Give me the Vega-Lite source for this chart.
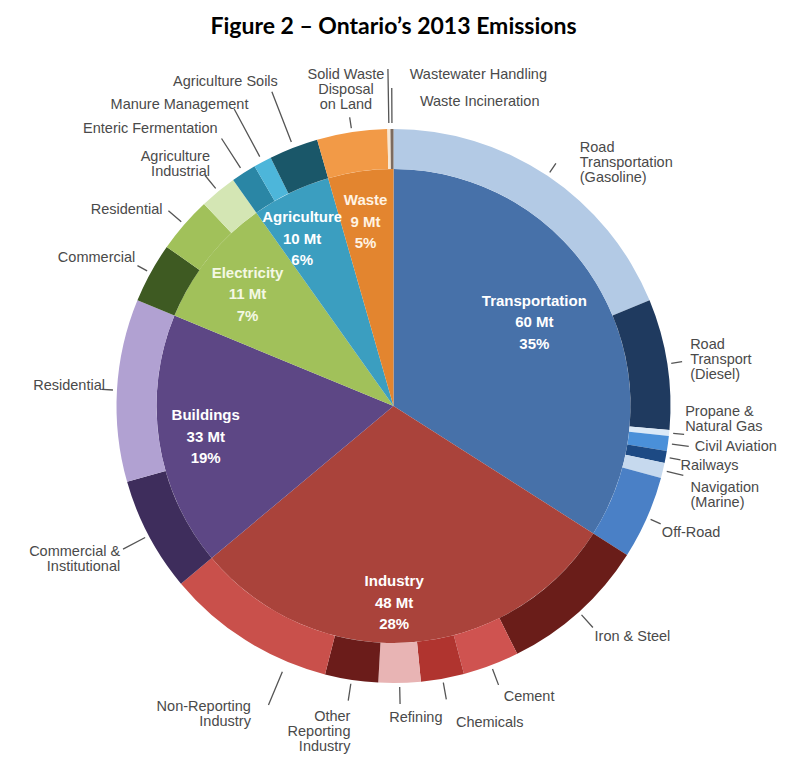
{
  "$schema": "https://vega.github.io/schema/vega-lite/v6.json",
  "width": 787,
  "height": 732,
  "autosize": {"type": "none"},
  "padding": {"left": 0, "top": 40, "right": 0, "bottom": 0},
  "background": "#ffffff",
  "title": {"text": "Figure 2 – Ontario’s 2013 Emissions", "anchor": "middle", "font": "Lato", "fontSize": 23, "fontWeight": "bold", "color": "#000000", "offset": 1},
  "config": {
    "view": {"fill": "#f0f0f0", "stroke": null},
    "text": {"font": "Liberation Sans", "fontSize": 14.5, "color": "#4a4a4a", "lineHeight": 15, "lineBreak": "\n", "baseline": "middle"}
  },
  "datasets": {
    "sectors": [
      {"idx": 1, "key": "Transportation", "value": 58.2, "label": "Transportation\n60 Mt\n35%"},
      {"idx": 2, "key": "Industry", "value": 51.1, "label": "Industry\n48 Mt\n28%"},
      {"idx": 3, "key": "Buildings", "value": 29.6, "label": "Buildings\n33 Mt\n19%"},
      {"idx": 4, "key": "Electricity", "value": 15.3, "label": "Electricity\n11 Mt\n7%"},
      {"idx": 5, "key": "Agriculture", "value": 9.2, "label": "Agriculture\n10 Mt\n6%"},
      {"idx": 6, "key": "Waste", "value": 7.6, "label": "Waste\n9 Mt\n5%"}
    ],
    "subs": [
      {"idx": 1, "sector": "Transportation", "key": "Road Transportation (Gasoline)", "value": 32.1, "label": "Road\nTransportation\n(Gasoline)"},
      {"idx": 2, "sector": "Transportation", "key": "Road Transport (Diesel)", "value": 13.0, "label": "Road\nTransport\n(Diesel)"},
      {"idx": 3, "sector": "Transportation", "key": "Propane & Natural Gas", "value": 0.6, "label": "Propane &\nNatural Gas"},
      {"idx": 4, "sector": "Transportation", "key": "Civil Aviation", "value": 1.5, "label": "Civil Aviation"},
      {"idx": 5, "sector": "Transportation", "key": "Railways", "value": 1.2, "label": "Railways"},
      {"idx": 6, "sector": "Transportation", "key": "Navigation (Marine)", "value": 1.5, "label": "Navigation\n(Marine)"},
      {"idx": 7, "sector": "Transportation", "key": "Off-Road", "value": 8.3, "label": "Off-Road"},
      {"idx": 8, "sector": "Industry", "key": "Iron & Steel", "value": 14.7, "label": "Iron & Steel"},
      {"idx": 9, "sector": "Industry", "key": "Cement", "value": 5.6, "label": "Cement"},
      {"idx": 10, "sector": "Industry", "key": "Chemicals", "value": 4.3, "label": "Chemicals"},
      {"idx": 11, "sector": "Industry", "key": "Refining", "value": 4.2, "label": "Refining"},
      {"idx": 12, "sector": "Industry", "key": "Other Reporting Industry", "value": 5.3, "label": "Other\nReporting\nIndustry"},
      {"idx": 13, "sector": "Industry", "key": "Non-Reporting Industry", "value": 17.0, "label": "Non-Reporting\nIndustry"},
      {"idx": 14, "sector": "Buildings", "key": "Buildings: Commercial & Institutional", "value": 11.4, "label": "Commercial &\nInstitutional"},
      {"idx": 15, "sector": "Buildings", "key": "Buildings: Residential", "value": 18.2, "label": "Residential"},
      {"idx": 16, "sector": "Electricity", "key": "Electricity: Commercial", "value": 6.0, "label": "Commercial"},
      {"idx": 17, "sector": "Electricity", "key": "Electricity: Residential", "value": 5.6, "label": "Residential"},
      {"idx": 18, "sector": "Electricity", "key": "Electricity: Agriculture Industrial", "value": 3.7, "label": "Agriculture\nIndustrial"},
      {"idx": 19, "sector": "Agriculture", "key": "Enteric Fermentation", "value": 2.5, "label": "Enteric Fermentation"},
      {"idx": 20, "sector": "Agriculture", "key": "Manure Management", "value": 1.8, "label": "Manure Management"},
      {"idx": 21, "sector": "Agriculture", "key": "Agriculture Soils", "value": 4.9, "label": "Agriculture Soils"},
      {"idx": 22, "sector": "Waste", "key": "Solid Waste Disposal on Land", "value": 7.0, "label": "Solid Waste\nDisposal\non Land"},
      {"idx": 23, "sector": "Waste", "key": "Wastewater Handling", "value": 0.3, "label": "Wastewater Handling"},
      {"idx": 24, "sector": "Waste", "key": "Waste Incineration", "value": 0.3, "label": "Waste Incineration"}
    ]
  },
  "layer": [
    {
      "data": {"name": "sectors"},
      "mark": {"type": "arc", "outerRadius": 237, "innerRadius": 0},
      "encoding": {
        "theta": {"field": "value", "type": "quantitative", "stack": true},
        "order": {"field": "idx", "type": "quantitative"},
        "color": {"field": "key", "type": "nominal", "legend": null,
          "scale": {
            "domain": ["Transportation", "Industry", "Buildings", "Electricity", "Agriculture", "Waste", "Road Transportation (Gasoline)", "Road Transport (Diesel)", "Propane & Natural Gas", "Civil Aviation", "Railways", "Navigation (Marine)", "Off-Road", "Iron & Steel", "Cement", "Chemicals", "Refining", "Other Reporting Industry", "Non-Reporting Industry", "Buildings: Commercial & Institutional", "Buildings: Residential", "Electricity: Commercial", "Electricity: Residential", "Electricity: Agriculture Industrial", "Enteric Fermentation", "Manure Management", "Agriculture Soils", "Solid Waste Disposal on Land", "Wastewater Handling", "Waste Incineration"],
            "range": ["#4771a9", "#aa433b", "#5d4785", "#a1c15a", "#3b9ec0", "#e3852f", "#b3cae5", "#1f3a5f", "#dbe9f7", "#4a90d9", "#1d4a84", "#c6d9ee", "#4a80c6", "#6a1d19", "#cf5350", "#b0342f", "#e8b4b4", "#6b1c1a", "#c9504b", "#3e2d5c", "#b1a1d2", "#3e5a22", "#a1c15a", "#d4e6b4", "#2a86a5", "#4db6da", "#1a5769", "#f29a47", "#f7e6d2", "#7c6b5f"]
          }
        }
      }
    },
    {
      "data": {"name": "subs"},
      "mark": {"type": "arc", "outerRadius": 277, "innerRadius": 237},
      "encoding": {
        "theta": {"field": "value", "type": "quantitative", "stack": true},
        "order": {"field": "idx", "type": "quantitative"},
        "color": {"field": "key", "type": "nominal", "legend": null}
      }
    },
    {
      "data": {"name": "subs"},
      "mark": {"type": "arc", "filled": false, "stroke": "#555555", "strokeWidth": 1.3, "padAngle": 3.14, "innerRadius": 281, "outerRadius": 292},
      "encoding": {
        "theta": {"field": "value", "type": "quantitative", "stack": true},
        "order": {"field": "idx", "type": "quantitative"},
        "strokeOpacity": {"condition": {"test": "indexof([1,2,3,5,7,15,16,22], datum.idx) >= 0", "value": 1}, "value": 0}
      }
    },
    {
      "data": {"name": "subs"},
      "mark": {"type": "arc", "filled": false, "stroke": "#555555", "strokeWidth": 1.3, "padAngle": 3.14, "innerRadius": 281, "outerRadius": 298},
      "encoding": {
        "theta": {"field": "value", "type": "quantitative", "stack": true},
        "order": {"field": "idx", "type": "quantitative"},
        "strokeOpacity": {"condition": {"test": "indexof([4,6,8,9,10,11,12,17,18], datum.idx) >= 0", "value": 1}, "value": 0}
      }
    },
    {
      "data": {"name": "subs"},
      "mark": {"type": "arc", "filled": false, "stroke": "#555555", "strokeWidth": 1.3, "padAngle": 3.14, "innerRadius": 288, "outerRadius": 324, "thetaOffset": -0.166},
      "encoding": {
        "theta": {"field": "value", "type": "quantitative", "stack": true},
        "order": {"field": "idx", "type": "quantitative"},
        "strokeOpacity": {"condition": {"test": "datum.idx === 13", "value": 1}, "value": 0}
      }
    },
    {
      "data": {"name": "subs"},
      "mark": {"type": "arc", "filled": false, "stroke": "#555555", "strokeWidth": 1.3, "padAngle": 3.14, "innerRadius": 281, "outerRadius": 306},
      "encoding": {
        "theta": {"field": "value", "type": "quantitative", "stack": true},
        "order": {"field": "idx", "type": "quantitative"},
        "strokeOpacity": {"condition": {"test": "datum.idx === 14", "value": 1}, "value": 0}
      }
    },
    {
      "data": {"name": "subs"},
      "mark": {"type": "arc", "filled": false, "stroke": "#555555", "strokeWidth": 1.3, "padAngle": 3.14, "innerRadius": 283, "outerRadius": 318},
      "encoding": {
        "theta": {"field": "value", "type": "quantitative", "stack": true},
        "order": {"field": "idx", "type": "quantitative"},
        "strokeOpacity": {"condition": {"test": "indexof([19,24], datum.idx) >= 0", "value": 1}, "value": 0}
      }
    },
    {
      "data": {"name": "subs"},
      "mark": {"type": "arc", "filled": false, "stroke": "#555555", "strokeWidth": 1.3, "padAngle": 3.14, "innerRadius": 283, "outerRadius": 337},
      "encoding": {
        "theta": {"field": "value", "type": "quantitative", "stack": true},
        "order": {"field": "idx", "type": "quantitative"},
        "strokeOpacity": {"condition": {"test": "indexof([20,21,23], datum.idx) >= 0", "value": 1}, "value": 0}
      }
    },
    {"data": {"name": "sectors"}, "mark": {"type": "text", "radius": 164, "dx": -3, "dy": -26.5, "align": "center", "font": "Liberation Sans", "fontWeight": "bold", "fontSize": 15, "lineHeight": 21.5, "color": "#ffffff"},
     "encoding": {"theta": {"field": "value", "type": "quantitative", "stack": true}, "order": {"field": "idx", "type": "quantitative"}, "text": {"condition": {"test": "datum.idx === 1", "field": "label"}, "value": ""}}},
    {"data": {"name": "sectors"}, "mark": {"type": "text", "radius": 197, "dx": -12, "dy": -21.5, "align": "center", "font": "Liberation Sans", "fontWeight": "bold", "fontSize": 15, "lineHeight": 21.5, "color": "#ffffff"},
     "encoding": {"theta": {"field": "value", "type": "quantitative", "stack": true}, "order": {"field": "idx", "type": "quantitative"}, "text": {"condition": {"test": "datum.idx === 2", "field": "label"}, "value": ""}}},
    {"data": {"name": "sectors"}, "mark": {"type": "text", "radius": 190, "dx": 0, "dy": -19.5, "align": "center", "font": "Liberation Sans", "fontWeight": "bold", "fontSize": 15, "lineHeight": 21.5, "color": "#ffffff"},
     "encoding": {"theta": {"field": "value", "type": "quantitative", "stack": true}, "order": {"field": "idx", "type": "quantitative"}, "text": {"condition": {"test": "datum.idx === 3", "field": "label"}, "value": ""}}},
    {"data": {"name": "sectors"}, "mark": {"type": "text", "radius": 184, "dx": -2, "dy": -18.5, "align": "center", "font": "Liberation Sans", "fontWeight": "bold", "fontSize": 15, "lineHeight": 21.5, "color": "#f4f8e4"},
     "encoding": {"theta": {"field": "value", "type": "quantitative", "stack": true}, "order": {"field": "idx", "type": "quantitative"}, "text": {"condition": {"test": "datum.idx === 4", "field": "label"}, "value": ""}}},
    {"data": {"name": "sectors"}, "mark": {"type": "text", "radius": 190, "dx": -9, "dy": -17.5, "align": "center", "font": "Liberation Sans", "fontWeight": "bold", "fontSize": 15, "lineHeight": 21.5, "color": "#ffffff"},
     "encoding": {"theta": {"field": "value", "type": "quantitative", "stack": true}, "order": {"field": "idx", "type": "quantitative"}, "text": {"condition": {"test": "datum.idx === 5", "field": "label"}, "value": ""}}},
    {"data": {"name": "sectors"}, "mark": {"type": "text", "radius": 186, "dx": -2, "dy": -21.5, "align": "center", "font": "Liberation Sans", "fontWeight": "bold", "fontSize": 15, "lineHeight": 21.5, "color": "#fff3e3"},
     "encoding": {"theta": {"field": "value", "type": "quantitative", "stack": true}, "order": {"field": "idx", "type": "quantitative"}, "text": {"condition": {"test": "datum.idx === 6", "field": "label"}, "value": ""}}},
    {"data": {"name": "subs"}, "mark": {"type": "text", "radius": 290, "align": "left", "dx": 25, "dy": -17}, "encoding": {"theta": {"field": "value", "type": "quantitative", "stack": true}, "order": {"field": "idx", "type": "quantitative"}, "text": {"condition": {"test": "datum.idx === 1", "field": "label"}, "value": ""}}},
    {"data": {"name": "subs"}, "mark": {"type": "text", "radius": 290, "align": "left", "dx": 10, "dy": -17}, "encoding": {"theta": {"field": "value", "type": "quantitative", "stack": true}, "order": {"field": "idx", "type": "quantitative"}, "text": {"condition": {"test": "datum.idx === 2", "field": "label"}, "value": ""}}},
    {"data": {"name": "subs"}, "mark": {"type": "text", "radius": 290, "align": "left", "dx": 3, "dy": -22}, "encoding": {"theta": {"field": "value", "type": "quantitative", "stack": true}, "order": {"field": "idx", "type": "quantitative"}, "text": {"condition": {"test": "datum.idx === 3", "field": "label"}, "value": ""}}},
    {"data": {"name": "subs"}, "mark": {"type": "text", "radius": 290, "align": "left", "dx": 14, "dy": 2}, "encoding": {"theta": {"field": "value", "type": "quantitative", "stack": true}, "order": {"field": "idx", "type": "quantitative"}, "text": {"condition": {"test": "datum.idx === 4", "field": "label"}, "value": ""}}},
    {"data": {"name": "subs"}, "mark": {"type": "text", "radius": 290, "align": "left", "dx": 2, "dy": 6}, "encoding": {"theta": {"field": "value", "type": "quantitative", "stack": true}, "order": {"field": "idx", "type": "quantitative"}, "text": {"condition": {"test": "datum.idx === 5", "field": "label"}, "value": ""}}},
    {"data": {"name": "subs"}, "mark": {"type": "text", "radius": 290, "align": "left", "dx": 15, "dy": 14}, "encoding": {"theta": {"field": "value", "type": "quantitative", "stack": true}, "order": {"field": "idx", "type": "quantitative"}, "text": {"condition": {"test": "datum.idx === 6", "field": "label"}, "value": ""}}},
    {"data": {"name": "subs"}, "mark": {"type": "text", "radius": 290, "align": "left", "dx": 3, "dy": 10}, "encoding": {"theta": {"field": "value", "type": "quantitative", "stack": true}, "order": {"field": "idx", "type": "quantitative"}, "text": {"condition": {"test": "datum.idx === 7", "field": "label"}, "value": ""}}},
    {"data": {"name": "subs"}, "mark": {"type": "text", "radius": 290, "align": "left", "dx": 7, "dy": 15}, "encoding": {"theta": {"field": "value", "type": "quantitative", "stack": true}, "order": {"field": "idx", "type": "quantitative"}, "text": {"condition": {"test": "datum.idx === 8", "field": "label"}, "value": ""}}},
    {"data": {"name": "subs"}, "mark": {"type": "text", "radius": 290, "align": "left", "dx": 8, "dy": 20}, "encoding": {"theta": {"field": "value", "type": "quantitative", "stack": true}, "order": {"field": "idx", "type": "quantitative"}, "text": {"condition": {"test": "datum.idx === 9", "field": "label"}, "value": ""}}},
    {"data": {"name": "subs"}, "mark": {"type": "text", "radius": 290, "align": "left", "dx": 11, "dy": 32}, "encoding": {"theta": {"field": "value", "type": "quantitative", "stack": true}, "order": {"field": "idx", "type": "quantitative"}, "text": {"condition": {"test": "datum.idx === 10", "field": "label"}, "value": ""}}},
    {"data": {"name": "subs"}, "mark": {"type": "text", "radius": 290, "align": "center", "dx": 16, "dy": 22}, "encoding": {"theta": {"field": "value", "type": "quantitative", "stack": true}, "order": {"field": "idx", "type": "quantitative"}, "text": {"condition": {"test": "datum.idx === 11", "field": "label"}, "value": ""}}},
    {"data": {"name": "subs"}, "mark": {"type": "text", "radius": 290, "align": "right", "dx": 1, "dy": 24}, "encoding": {"theta": {"field": "value", "type": "quantitative", "stack": true}, "order": {"field": "idx", "type": "quantitative"}, "text": {"condition": {"test": "datum.idx === 12", "field": "label"}, "value": ""}}},
    {"data": {"name": "subs"}, "mark": {"type": "text", "radius": 290, "align": "right", "dx": 12, "dy": 56}, "encoding": {"theta": {"field": "value", "type": "quantitative", "stack": true}, "order": {"field": "idx", "type": "quantitative"}, "text": {"condition": {"test": "datum.idx === 13", "field": "label"}, "value": ""}}},
    {"data": {"name": "subs"}, "mark": {"type": "text", "radius": 290, "align": "right", "dx": -17, "dy": 10}, "encoding": {"theta": {"field": "value", "type": "quantitative", "stack": true}, "order": {"field": "idx", "type": "quantitative"}, "text": {"condition": {"test": "datum.idx === 14", "field": "label"}, "value": ""}}},
    {"data": {"name": "subs"}, "mark": {"type": "text", "radius": 290, "align": "right", "dx": 1, "dy": -3}, "encoding": {"theta": {"field": "value", "type": "quantitative", "stack": true}, "order": {"field": "idx", "type": "quantitative"}, "text": {"condition": {"test": "datum.idx === 15", "field": "label"}, "value": ""}}},
    {"data": {"name": "subs"}, "mark": {"type": "text", "radius": 290, "align": "right", "dx": -4, "dy": -9}, "encoding": {"theta": {"field": "value", "type": "quantitative", "stack": true}, "order": {"field": "idx", "type": "quantitative"}, "text": {"condition": {"test": "datum.idx === 16", "field": "label"}, "value": ""}}},
    {"data": {"name": "subs"}, "mark": {"type": "text", "radius": 290, "align": "right", "dx": -12, "dy": -6}, "encoding": {"theta": {"field": "value", "type": "quantitative", "stack": true}, "order": {"field": "idx", "type": "quantitative"}, "text": {"condition": {"test": "datum.idx === 17", "field": "label"}, "value": ""}}},
    {"data": {"name": "subs"}, "mark": {"type": "text", "radius": 290, "align": "right", "dx": 0, "dy": -24}, "encoding": {"theta": {"field": "value", "type": "quantitative", "stack": true}, "order": {"field": "idx", "type": "quantitative"}, "text": {"condition": {"test": "datum.idx === 18", "field": "label"}, "value": ""}}},
    {"data": {"name": "subs"}, "mark": {"type": "text", "radius": 290, "align": "right", "dx": -19, "dy": -33}, "encoding": {"theta": {"field": "value", "type": "quantitative", "stack": true}, "order": {"field": "idx", "type": "quantitative"}, "text": {"condition": {"test": "datum.idx === 19", "field": "label"}, "value": ""}}},
    {"data": {"name": "subs"}, "mark": {"type": "text", "radius": 290, "align": "right", "dx": -8, "dy": -45}, "encoding": {"theta": {"field": "value", "type": "quantitative", "stack": true}, "order": {"field": "idx", "type": "quantitative"}, "text": {"condition": {"test": "datum.idx === 20", "field": "label"}, "value": ""}}},
    {"data": {"name": "subs"}, "mark": {"type": "text", "radius": 290, "align": "right", "dx": -11, "dy": -54}, "encoding": {"theta": {"field": "value", "type": "quantitative", "stack": true}, "order": {"field": "idx", "type": "quantitative"}, "text": {"condition": {"test": "datum.idx === 21", "field": "label"}, "value": ""}}},
    {"data": {"name": "subs"}, "mark": {"type": "text", "radius": 290, "align": "center", "dx": -4, "dy": -44}, "encoding": {"theta": {"field": "value", "type": "quantitative", "stack": true}, "order": {"field": "idx", "type": "quantitative"}, "text": {"condition": {"test": "datum.idx === 22", "field": "label"}, "value": ""}}},
    {"data": {"name": "subs"}, "mark": {"type": "text", "radius": 290, "align": "left", "dx": 21, "dy": -41}, "encoding": {"theta": {"field": "value", "type": "quantitative", "stack": true}, "order": {"field": "idx", "type": "quantitative"}, "text": {"condition": {"test": "datum.idx === 23", "field": "label"}, "value": ""}}},
    {"data": {"name": "subs"}, "mark": {"type": "text", "radius": 290, "align": "left", "dx": 28, "dy": -14}, "encoding": {"theta": {"field": "value", "type": "quantitative", "stack": true}, "order": {"field": "idx", "type": "quantitative"}, "text": {"condition": {"test": "datum.idx === 24", "field": "label"}, "value": ""}}}
  ]
}
